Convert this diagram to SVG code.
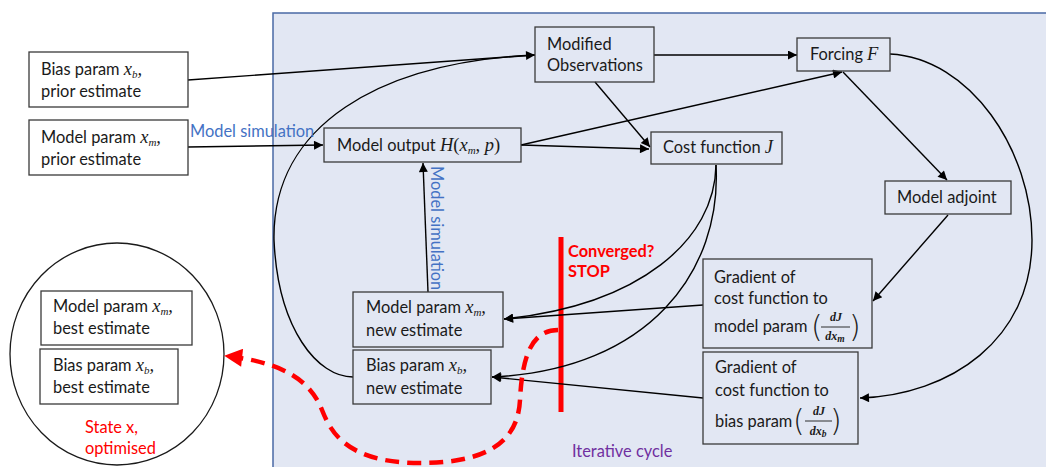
<svg xmlns="http://www.w3.org/2000/svg" width="1046" height="467" viewBox="0 0 1046 467">
<defs>
<style>
.t{font-family:Lato,"Open Sans","Liberation Sans",sans-serif;font-size:16.4px;fill:#1a1a1a}
.m{font-family:"Liberation Serif",serif;font-style:italic;font-size:18.5px}
.s{font-size:11px}
.fr{font-family:"Liberation Serif",serif;font-style:italic;font-weight:bold;font-size:12px;fill:#1a1a1a}
.par{font-family:"DejaVu Sans",sans-serif;font-weight:200;font-size:30px;fill:#1a1a1a}
.blue{font-family:Lato,"Open Sans","Liberation Sans",sans-serif;font-size:16.4px;fill:#4472c4}
.red{font-family:Lato,"Open Sans","Liberation Sans",sans-serif;font-size:16.4px;fill:#ff0000}
.box{fill:none;stroke:#3a3a3a;stroke-width:1.3}
.wbox{fill:#ffffff;stroke:#3a3a3a;stroke-width:1.3}
.c{fill:none;stroke:#000;stroke-width:1.4;marker-end:url(#ah)}
.cn{fill:none;stroke:#000;stroke-width:1.4}
</style>
<marker id="ah" viewBox="0 0 10 10" refX="10" refY="5" markerWidth="11" markerHeight="9" markerUnits="userSpaceOnUse" orient="auto">
<path d="M0,0 L10,5 L0,10 z" fill="#000"/>
</marker>
<marker id="rah" viewBox="0 0 10 10" refX="9" refY="5" markerWidth="20" markerHeight="18" markerUnits="userSpaceOnUse" orient="auto">
<path d="M0,0 L10,5 L0,10 z" fill="#ff0000"/>
</marker>
</defs>
<rect x="0" y="0" width="1046" height="467" fill="#ffffff"/>
<g id="iterative-cycle-frame">
<rect x="273" y="13" width="800" height="480" fill="#e2e7f3" stroke="#4a6aa5" stroke-width="1.5"/>
<text class="t" x="572" y="457" style="fill:#7030a0">Iterative cycle</text>
</g>
<g id="state-optimised">
<ellipse cx="117" cy="354" rx="107" ry="111" fill="#ffffff" stroke="#1a1a1a" stroke-width="1.3"/>
<text class="red" x="85" y="433">State x,</text>
<text class="red" x="85" y="454">optimised</text>
</g>
<g id="stop-bar">
<line x1="561" y1="237" x2="561" y2="412" stroke="#ff0000" stroke-width="5"/>
<text class="red" x="568" y="257" style="font-weight:bold">Converged?</text>
<text class="red" x="568" y="277" style="font-weight:bold">STOP</text>
</g>
<g id="connectors">
<path class="cn" d="M188,80 L535,55"/>
<path class="c" d="M353,377 C318,377 278,330 274,240 C272,125 380,62 535,55"/>
<path class="c" d="M188,147 L323,145"/>
<text class="blue" x="190" y="137">Model simulation</text>
<path class="c" d="M654,55 L797,55"/>
<path class="c" d="M595,82 L650,147"/>
<path class="c" d="M521,145 L649,149"/>
<path class="c" d="M521,145 L842,72"/>
<path class="c" d="M843,72 L947,180"/>
<path class="c" d="M890,54 C970,58 1032,150 1032,240 C1032,340 950,395 860,398"/>
<path class="c" d="M948,215 L873,301"/>
<path class="c" d="M703,305 L504,319"/>
<path class="c" d="M703,398 L492,377"/>
<path class="c" d="M716,165 C715,240 640,305 504,319"/>
<path class="c" d="M716,165 C722,270 650,370 492,377"/>
<path class="c" d="M428,292 L423,163"/>
<text class="blue" transform="translate(431,166) rotate(90)">Model simulation</text>
<path d="M558,330 C530,330 522,360 520,400 C518,440 490,463 420,463 C345,463 330,430 322,410 C312,385 290,363 226,356" fill="none" stroke="#ff0000" stroke-width="4.5" stroke-dasharray="14,8" marker-end="url(#rah)"/>
</g>
<g id="bias-prior">
<rect class="wbox" x="29" y="52" width="159" height="55"/>
<text class="t" x="41" y="75">Bias param <tspan class="m">x<tspan class="s" dy="3">b</tspan><tspan dy="-3">,</tspan></tspan></text>
<text class="t" x="41" y="97">prior estimate</text>
</g>
<g id="model-prior">
<rect class="wbox" x="29" y="120" width="159" height="55"/>
<text class="t" x="41" y="143">Model param <tspan class="m">x<tspan class="s" dy="3">m</tspan><tspan dy="-3">,</tspan></tspan></text>
<text class="t" x="41" y="165">prior estimate</text>
</g>
<g id="model-output">
<rect class="box" x="324" y="128" width="197" height="34"/>
<text class="t" x="337" y="151">Model output <tspan class="m">H</tspan><tspan style="font-family:'Liberation Serif',serif;font-size:18.5px">(</tspan><tspan class="m">x<tspan class="s" dy="3">m</tspan><tspan dy="-3" style="font-style:normal">, </tspan>p</tspan><tspan style="font-family:'Liberation Serif',serif;font-size:18.5px">)</tspan></text>
</g>
<g id="modified-observations">
<rect class="box" x="535" y="27" width="119" height="55"/>
<text class="t" x="547" y="50">Modified</text>
<text class="t" x="547" y="71">Observations</text>
</g>
<g id="forcing">
<rect class="box" x="797" y="38" width="93" height="33"/>
<text class="t" x="810" y="60">Forcing <tspan class="m">F</tspan></text>
</g>
<g id="cost-function">
<rect class="box" x="651" y="132" width="131" height="32"/>
<text class="t" x="663" y="153">Cost function <tspan class="m">J</tspan></text>
</g>
<g id="model-adjoint">
<rect class="box" x="885" y="181" width="126" height="33"/>
<text class="t" x="897" y="203">Model adjoint</text>
</g>
<g id="gradient-model">
<rect class="box" x="703" y="259" width="169" height="89"/>
<text class="t" x="714" y="283">Gradient of</text>
<text class="t" x="714" y="304">cost function to</text>
<text class="t" x="714" y="332">model param</text>
<text class="par" x="811" y="337">(</text>
<text class="fr" x="836" y="321" text-anchor="middle">dJ</text>
<line x1="821" y1="327" x2="850" y2="327" stroke="#1a1a1a" stroke-width="0.9"/>
<text class="fr" x="835" y="340" text-anchor="middle">dx<tspan font-size="9.5" dy="2">m</tspan></text>
<text class="par" x="849" y="337">)</text>
</g>
<g id="gradient-bias">
<rect class="box" x="703" y="352" width="155" height="92"/>
<text class="t" x="715" y="373">Gradient of</text>
<text class="t" x="715" y="396">cost function to</text>
<text class="t" x="715" y="427">bias param</text>
<text class="par" x="793" y="431">(</text>
<text class="fr" x="819" y="415" text-anchor="middle">dJ</text>
<line x1="805" y1="421" x2="832" y2="421" stroke="#1a1a1a" stroke-width="0.9"/>
<text class="fr" x="818" y="435" text-anchor="middle">dx<tspan font-size="9.5" dy="2">b</tspan></text>
<text class="par" x="830" y="431">)</text>
</g>
<g id="model-new">
<rect class="box" x="353" y="292" width="150" height="55"/>
<text class="t" x="366" y="313">Model param <tspan class="m">x<tspan class="s" dy="3">m</tspan><tspan dy="-3">,</tspan></tspan></text>
<text class="t" x="366" y="336">new estimate</text>
</g>
<g id="bias-new">
<rect class="box" x="353" y="350" width="138" height="54"/>
<text class="t" x="366" y="371">Bias param <tspan class="m">x<tspan class="s" dy="3">b</tspan><tspan dy="-3">,</tspan></tspan></text>
<text class="t" x="366" y="394">new estimate</text>
</g>
<g id="model-best">
<rect class="wbox" x="41" y="291" width="151" height="54"/>
<text class="t" x="53" y="312">Model param <tspan class="m">x<tspan class="s" dy="3">m</tspan><tspan dy="-3">,</tspan></tspan></text>
<text class="t" x="53" y="334">best estimate</text>
</g>
<g id="bias-best">
<rect class="wbox" x="40" y="349" width="138" height="55"/>
<text class="t" x="53" y="371">Bias param <tspan class="m">x<tspan class="s" dy="3">b</tspan><tspan dy="-3">,</tspan></tspan></text>
<text class="t" x="53" y="393">best estimate</text>
</g>
</svg>
